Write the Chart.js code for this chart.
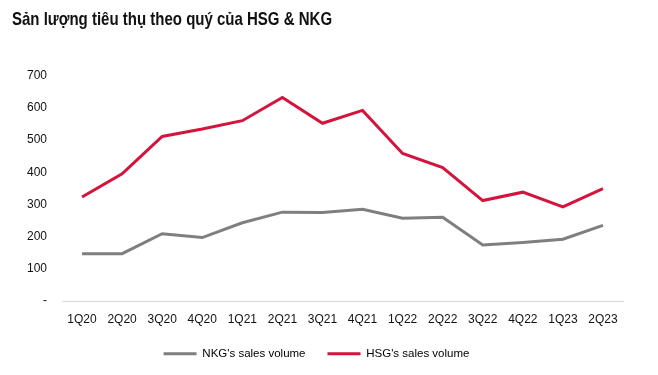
<!DOCTYPE html>
<html>
<head>
<meta charset="utf-8">
<script src="https://cdn.jsdelivr.net/npm/chart.js@4.4.0/dist/chart.umd.min.js"></script>
<style>
html,body{margin:0;padding:0;background:#fff;}
#wrap{width:658px;height:375px;position:relative;}
</style>
</head>
<body>
<div id="wrap"><canvas id="c" width="658" height="375"></canvas></div>
<script>
const categories = ['1Q20','2Q20','3Q20','4Q20','1Q21','2Q21','3Q21','4Q21','1Q22','2Q22','3Q22','4Q22','1Q23','2Q23'];
const nkgValues = [147,147,209,197,243,276,275,285,257,260,174,182,192,235];
const hsgValues = [323,395,511,534,560,632,552,592,458,414,312,338,292,349];
const yTicks = [0,100,200,300,400,500,600,700];
const titleText = 'Sản lượng tiêu thụ theo quý của HSG & NKG';
const seriesNames = ["NKG's sales volume", "HSG's sales volume"];

const FONT = "'Liberation Sans','Arial',sans-serif";

// draws the title text horizontally condensed (the reference uses a narrow bold face)
const condensedTitle = {
  id: 'condensedTitle',
  afterDraw(chart) {
    const ctx = chart.ctx;
    ctx.save();
    ctx.font = "bold 19px " + FONT;
    ctx.fillStyle = '#111';
    ctx.textBaseline = 'alphabetic';
    ctx.textAlign = 'left';
    ctx.translate(12, 25);
    ctx.scale(0.79, 1);
    ctx.fillText(titleText, 0, 0);
    ctx.restore();
  }
};

new Chart(document.getElementById('c'), {
  type: 'line',
  data: {
    labels: categories,
    datasets: [
      {label: seriesNames[0], data: nkgValues, borderColor: '#7f7f7f', backgroundColor: '#7f7f7f', borderWidth: 3, pointRadius: 0, tension: 0},
      {label: seriesNames[1], data: hsgValues, borderColor: '#d4143c', backgroundColor: '#d4143c', borderWidth: 3, pointRadius: 0, tension: 0}
    ]
  },
  plugins: [condensedTitle],
  options: {
    responsive: false,
    animation: false,
    layout: {padding: {left: 10, right: 35, top: 6, bottom: 17}},
    plugins: {
      title: {display: true, text: titleText, align: 'start', color: 'rgba(0,0,0,0)',
        font: {family: FONT, size: 18, weight: 'bold'}, padding: {top: 2, bottom: 46}},
      legend: {position: 'bottom', maxHeight: 32, labels: {
        font: {family: FONT, size: 11.5}, color: '#111', boxWidth: 33, boxHeight: 3, padding: 22,
        generateLabels: (chart) => chart.data.datasets.map((d, i) => ({
          text: d.label, fillStyle: d.borderColor, strokeStyle: d.borderColor, lineWidth: 0, datasetIndex: i, hidden: false
        }))
      }},
      tooltip: {enabled: false}
    },
    scales: {
      x: {offset: true, grid: {display: false, drawTicks: false},
        border: {display: true, color: '#d9d9d9', width: 1},
        afterFit: (ax) => { ax.height = 25; },
        ticks: {font: {family: FONT, size: 12}, color: '#111', padding: 11, maxRotation: 0, autoSkip: false}},
      y: {min: 0, max: 700, grid: {display: false, drawTicks: false}, border: {display: false},
        afterBuildTicks: (ax) => { ax.ticks = yTicks.map(v => ({value: v})); },
        afterFit: (ax) => { ax.width = 52; },
        ticks: {font: {family: FONT, size: 12}, color: '#111', padding: 15,
          callback: (v) => v === 0 ? '-' : String(v)}}
    }
  }
});
</script>
</body>
</html>
